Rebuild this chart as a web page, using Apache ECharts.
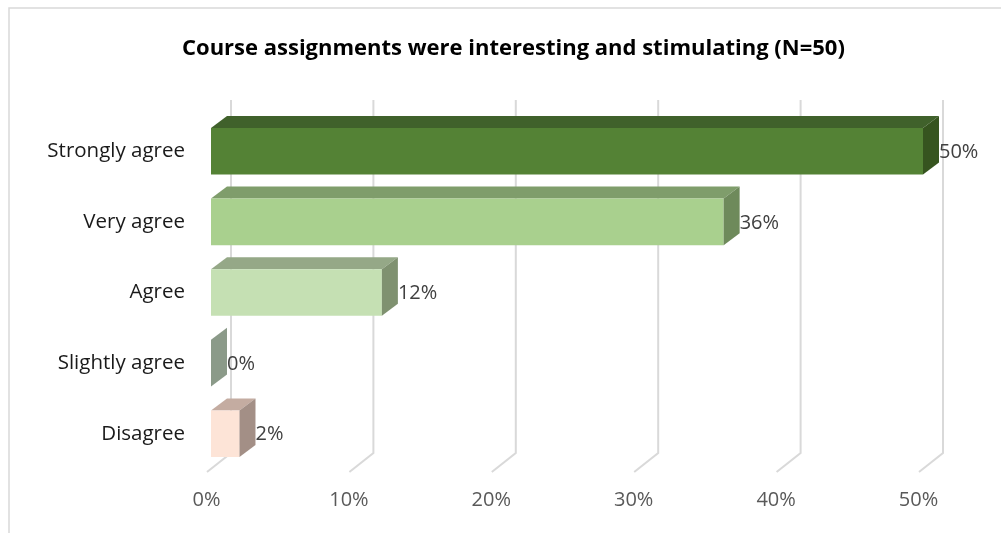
<!DOCTYPE html>
<html>
<head>
<meta charset="utf-8">
<script src="https://cdn.jsdelivr.net/npm/echarts@6/dist/echarts.min.js"></script>
<style>
  html, body { margin: 0; padding: 0; background: #fff; }
  #chart { width: 1001px; height: 533px; }
</style>
</head>
<body>
<div id="chart"></div>
<script>
// Survey responses (percent of N=50)
const categories = ['Strongly agree', 'Very agree', 'Agree', 'Slightly agree', 'Disagree'];
const values = [50, 36, 12, 0, 2];
const tickValues = [0, 10, 20, 30, 40, 50];

// Face colours for each bar: front, top, side
const frontColors = ['#548235', '#a9d08e', '#c5e0b3', '#b4c2ae', '#fde4d7'];
const topColors   = ['#40612b', '#7f9d6b', '#95a887', '#9aa897', '#c4aca1'];
const sideColors  = ['#36541f', '#6e8a5b', '#7f9170', '#8b9a89', '#a38f86'];

const DEPTH_X = 16, DEPTH_Y = 12;   // bar extrusion
const BAR_RATIO = 0.66;

const chart = echarts.init(document.getElementById('chart'), null, { renderer: 'canvas' });

const barData = values.map((v, i) => [v, i]);

function renderBar(params, api) {
  const v = api.value(0), idx = api.value(1);
  const p0 = api.coord([0, idx]);
  const p1 = api.coord([v, idx]);
  const band = api.size([0, 1])[1];
  const h = band * BAR_RATIO;
  const x0 = p0[0], x1 = p1[0];
  const yt = p0[1] - h / 2, yb = p0[1] + h / 2;
  const i = params.dataIndex;
  const children = [];
  if (x1 > x0) {
    children.push({
      type: 'polygon',
      shape: { points: [[x0, yt], [x1, yt], [x1 + DEPTH_X, yt - DEPTH_Y], [x0 + DEPTH_X, yt - DEPTH_Y]] },
      style: { fill: topColors[i] }
    });
    children.push({
      type: 'rect',
      shape: { x: x0, y: yt, width: x1 - x0, height: h },
      style: { fill: frontColors[i] }
    });
  }
  children.push({
    type: 'polygon',
    shape: { points: [[x1, yt], [x1 + DEPTH_X, yt - DEPTH_Y], [x1 + DEPTH_X, yb - DEPTH_Y], [x1, yb]] },
    style: { fill: sideColors[i] }
  });
  children.push({
    type: 'text',
    style: {
      x: x1 + DEPTH_X, y: p0[1] + 1,
      text: v + '%',
      fill: '#404040',
      font: '20px "Open Sans", sans-serif',
      textAlign: 'left', textVerticalAlign: 'middle'
    }
  });
  return { type: 'group', children };
}

function renderGridLine(params, api) {
  const v = api.value(0);
  const cs = params.coordSys;
  const x = api.coord([v, 0])[0];
  const top = cs.y, bottom = cs.y + cs.height;
  return {
    type: 'polyline',
    shape: { points: [[x + 20, top - 16], [x + 20, bottom - 16], [x - 4, bottom + 3]] },
    style: { stroke: '#d9d9d9', lineWidth: 2, fill: null }
  };
}

chart.setOption({
  animation: false,
  backgroundColor: '#fff',
  title: {
    text: 'Course assignments were interesting and stimulating (N=50)',
    left: 177,
    top: 33,
    textStyle: { fontFamily: 'Open Sans', fontWeight: 'bold', fontSize: 22, color: '#000' }
  },
  graphic: [{
    type: 'polyline',
    shape: { points: [[9, 533], [9, 8], [1001, 8]] },
    style: { stroke: '#d9d9d9', lineWidth: 1.5, fill: null }
  }],
  grid: { left: 211, top: 116, width: 712, height: 353 },
  xAxis: {
    type: 'value', min: 0, max: 50, interval: 10,
    axisLine: { show: false }, axisTick: { show: false }, splitLine: { show: false },
    axisLabel: {
      formatter: '{value}%', color: '#595959', fontSize: 20, fontFamily: 'Open Sans',
      margin: 21, padding: [0, 9, 0, 0]
    }
  },
  yAxis: {
    type: 'category', data: categories, inverse: true,
    axisLine: { show: false }, axisTick: { show: false },
    axisLabel: { color: '#1a1a1a', fontSize: 20.5, fontFamily: 'Open Sans', margin: 26 }
  },
  series: [
    {
      type: 'custom', name: 'grid', renderItem: renderGridLine,
      data: tickValues.map(v => [v]), encode: { x: 0 }, clip: false, silent: true, z: 1
    },
    {
      type: 'custom', name: 'share', renderItem: renderBar,
      data: barData, encode: { x: 0, y: 1 }, clip: false, z: 2
    }
  ]
});
</script>
</body>
</html>
